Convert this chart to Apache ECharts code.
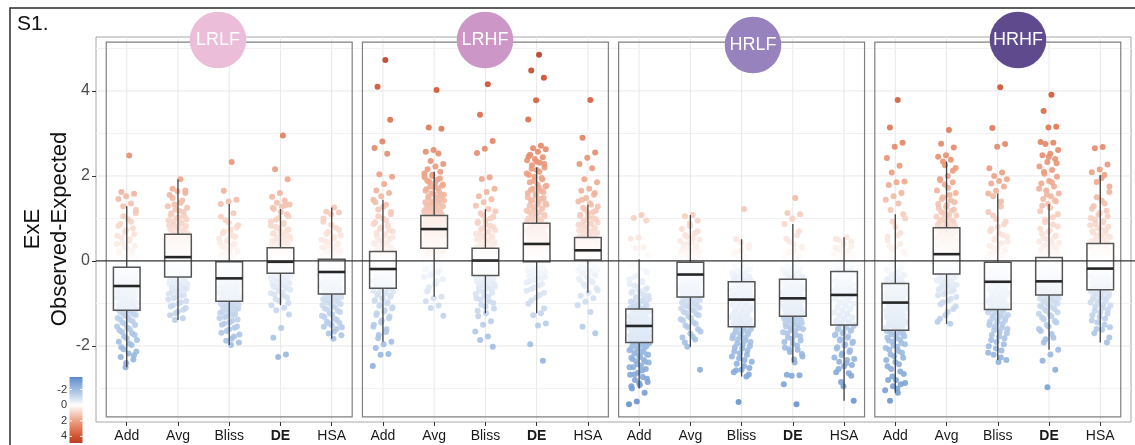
<!DOCTYPE html>
<html>
<head>
<meta charset="utf-8">
<script src="https://cdn.jsdelivr.net/npm/echarts@6.0.0/dist/echarts.min.js"></script>
<style>
  html, body { margin: 0; padding: 0; background: #ffffff; }
  #chart { width: 1135px; height: 445px; }
</style>
</head>
<body>
<div id="chart"></div>
<script>
// ---- data -------------------------------------------------------------
const categories = ['Add', 'Avg', 'Bliss', 'DE', 'HSA'];
const panels = ['LRLF', 'LRHF', 'HRLF', 'HRHF'];
const yTickValues = [-2, 0, 2, 4];
const legendTickValues = [-2, 0, 2, 4];

// box statistics per panel, one row per category:
// [lower whisker, Q1, median, Q3, upper whisker]
const boxLRLF = [
  [-2.50, -1.16, -0.59, -0.15, 1.29],
  [-1.39, -0.38, 0.09, 0.63, 1.92],
  [-1.98, -0.95, -0.41, -0.02, 1.34],
  [-1.04, -0.29, -0.02, 0.31, 1.22],
  [-1.83, -0.78, -0.26, 0.04, 1.26]
];
const boxLRHF = [
  [-1.90, -0.64, -0.19, 0.22, 1.44],
  [-0.84, 0.30, 0.75, 1.07, 2.10],
  [-1.23, -0.34, 0.01, 0.30, 1.22],
  [-1.23, -0.02, 0.40, 0.89, 2.20],
  [-0.75, 0.02, 0.25, 0.55, 1.32]
];
const boxHRLF = [
  [-3.00, -1.92, -1.53, -1.13, 0.04],
  [-2.02, -0.85, -0.32, -0.03, 1.08],
  [-2.72, -1.55, -0.91, -0.49, 0.51],
  [-2.39, -1.30, -0.88, -0.43, 0.87],
  [-3.29, -1.51, -0.80, -0.25, 0.56]
];
const boxHRHF = [
  [-3.10, -1.63, -0.98, -0.53, 1.10],
  [-1.48, -0.31, 0.16, 0.78, 2.34],
  [-2.33, -1.14, -0.49, -0.03, 1.59],
  [-2.09, -0.80, -0.48, 0.08, 1.34],
  [-1.92, -0.68, -0.18, 0.41, 2.02]
];

// individual ExE values (observed - expected)
const ptsLRLF_Add = [2.48,1.62,1.58,1.52,1.46,1.35,1.29,1.12,0.98,0.87,0.77,0.68,0.59,0.51,0.43,0.36,0.29,0.22,0.15,0.09,0.03,-0.03,-0.08,-0.12,
  -0.17,-0.19,-0.22,-0.24,-0.27,-0.29,-0.32,-0.34,-0.37,-0.40,-0.42,-0.45,-0.47,-0.50,-0.52,-0.54,-0.56,-0.58,
  -0.61,-0.64,-0.67,-0.70,-0.73,-0.76,-0.79,-0.82,-0.85,-0.88,-0.92,-0.95,-0.98,-1.01,-1.05,-1.08,-1.11,-1.14,
  -1.19,-1.23,-1.27,-1.32,-1.37,-1.42,-1.48,-1.54,-1.60,-1.67,-1.74,-1.82,-1.90,-1.98,-2.08,-2.13,-2.18,-2.26,-2.32,-2.50,
  -0.10,-0.05,0.00,0.06,0.12,0.19,0.26,0.33,0.40,0.47,0.55,0.63,0.72,0.82,0.92,1.05,1.20,
  -0.18,-0.21,-0.23,-0.26,-0.28,-0.31,-0.33,-0.36,-0.38,-0.41,-0.44,-0.46,-0.49,-0.51,-0.53,-0.55,-0.57,
  -0.62,-0.65,-0.68,-0.71,-0.74,-0.77,-0.80,-0.83,-0.87,-0.90,-0.93,-0.96,-1.00,-1.03,-1.06,-1.10,-1.13,
  -1.17,-1.21,-1.25,-1.29,-1.34,-1.39,-1.45,-1.51,-1.57,-1.63,-1.70,-1.78,-1.86,-1.94,-2.03,-2.22,-2.40];
const ptsLRLF_Avg = [1.92,1.70,1.66,1.64,1.55,1.42,1.33,1.25,1.18,1.12,1.06,1.01,0.96,0.91,0.86,0.82,0.78,0.74,0.70,0.66,
  0.60,0.57,0.54,0.51,0.48,0.45,0.42,0.39,0.36,0.33,0.30,0.27,0.24,0.21,0.18,0.15,0.13,0.11,
  0.07,0.04,0.01,-0.02,-0.05,-0.08,-0.11,-0.14,-0.17,-0.19,-0.22,-0.25,-0.27,-0.29,-0.31,-0.33,-0.35,-0.37,
  -0.41,-0.45,-0.49,-0.53,-0.57,-0.61,-0.65,-0.70,-0.75,-0.80,-0.85,-0.91,-0.97,-1.04,-1.11,-1.19,-1.28,-1.35,-1.39,
  0.64,0.68,0.72,0.76,0.80,0.84,0.88,0.93,0.98,1.03,1.09,1.15,1.21,1.29,1.37,1.48,1.60,
  0.61,0.58,0.55,0.52,0.49,0.46,0.43,0.40,0.37,0.34,0.31,0.28,0.25,0.22,0.19,0.16,0.12,
  0.08,0.05,0.02,-0.01,-0.04,-0.07,-0.10,-0.13,-0.15,-0.18,-0.21,-0.23,-0.26,-0.28,-0.30,-0.32,-0.36,
  -0.39,-0.43,-0.47,-0.51,-0.55,-0.59,-0.63,-0.67,-0.72,-0.77,-0.82,-0.88,-0.94,-1.00,-1.07,-1.15,-1.23];
const ptsLRLF_Bliss = [2.33,1.65,1.44,1.40,1.34,1.12,0.96,0.84,0.74,0.65,0.57,0.50,0.43,0.37,0.31,0.26,0.21,0.16,0.12,0.08,0.04,0.01,
  -0.04,-0.06,-0.08,-0.10,-0.13,-0.15,-0.17,-0.19,-0.22,-0.24,-0.26,-0.28,-0.30,-0.32,-0.34,-0.36,-0.38,-0.40,
  -0.44,-0.47,-0.50,-0.53,-0.56,-0.59,-0.62,-0.65,-0.68,-0.71,-0.74,-0.77,-0.80,-0.83,-0.86,-0.89,-0.92,-0.94,
  -0.98,-1.01,-1.04,-1.08,-1.12,-1.16,-1.20,-1.25,-1.30,-1.35,-1.41,-1.47,-1.54,-1.61,-1.69,-1.78,-1.88,-1.92,-1.98,
  0.00,0.03,0.06,0.10,0.14,0.18,0.23,0.28,0.34,0.40,0.46,0.53,0.61,0.69,0.79,0.90,1.04,
  -0.03,-0.05,-0.07,-0.09,-0.11,-0.14,-0.16,-0.18,-0.20,-0.23,-0.25,-0.27,-0.29,-0.31,-0.33,-0.35,-0.37,
  -0.42,-0.45,-0.48,-0.51,-0.54,-0.57,-0.60,-0.63,-0.66,-0.69,-0.72,-0.75,-0.78,-0.81,-0.84,-0.87,-0.90,
  -0.96,-0.99,-1.03,-1.06,-1.10,-1.14,-1.18,-1.22,-1.27,-1.32,-1.38,-1.44,-1.50,-1.57,-1.65,-1.73,-1.83];
const ptsLRLF_DE = [2.95,2.16,1.92,1.60,1.51,1.42,1.37,1.33,1.28,1.22,1.10,1.01,0.93,0.86,0.80,0.74,0.69,0.64,0.60,0.56,0.52,0.48,0.45,0.42,0.39,0.36,0.33,
  0.29,0.27,0.25,0.23,0.21,0.19,0.17,0.15,0.13,0.11,0.09,0.08,0.06,0.04,0.03,0.02,0.01,0.00,
  -0.04,-0.05,-0.07,-0.08,-0.10,-0.11,-0.13,-0.14,-0.16,-0.17,-0.19,-0.20,-0.22,-0.23,-0.25,-0.26,-0.27,-0.28,
  -0.31,-0.33,-0.35,-0.37,-0.40,-0.42,-0.45,-0.48,-0.51,-0.55,-0.59,-0.63,-0.68,-0.73,-0.79,-0.86,-0.94,-1.04,-1.10,-1.16,-1.26,-1.58,-1.81,-2.20,-2.26,
  0.32,0.35,0.38,0.41,0.44,0.47,0.50,0.54,0.58,0.62,0.66,0.71,0.77,0.83,0.90,0.97,1.05,1.15,1.25,1.31,
  0.30,0.28,0.26,0.24,0.22,0.20,0.18,0.16,0.14,0.12,0.10,0.07,0.05,0.04,0.02,0.01,-0.01,
  -0.03,-0.06,-0.07,-0.09,-0.10,-0.12,-0.13,-0.15,-0.16,-0.18,-0.19,-0.21,-0.22,-0.24,-0.25,-0.27,-0.28,
  -0.30,-0.32,-0.34,-0.36,-0.38,-0.41,-0.44,-0.46,-0.49,-0.53,-0.57,-0.61,-0.65,-0.70,-0.76,-0.82,-0.90,-0.99];
const ptsLRLF_HSA = [1.26,1.16,1.14,1.10,0.92,0.78,0.68,0.60,0.53,0.47,0.41,0.36,0.31,0.27,0.23,0.19,0.15,0.12,0.09,0.06,
  0.02,0.00,-0.02,-0.03,-0.05,-0.07,-0.08,-0.10,-0.12,-0.13,-0.15,-0.17,-0.18,-0.20,-0.21,-0.23,-0.24,-0.25,
  -0.28,-0.31,-0.34,-0.37,-0.40,-0.43,-0.46,-0.49,-0.52,-0.55,-0.58,-0.61,-0.64,-0.67,-0.70,-0.72,-0.74,-0.76,
  -0.80,-0.83,-0.86,-0.90,-0.94,-0.98,-1.02,-1.07,-1.12,-1.17,-1.23,-1.29,-1.36,-1.43,-1.46,-1.51,-1.55,-1.60,-1.71,-1.75,-1.83,
  0.05,0.08,0.11,0.14,0.17,0.21,0.25,0.29,0.33,0.38,0.44,0.50,0.56,0.64,0.73,0.85,1.00,
  0.03,0.01,-0.01,-0.03,-0.04,-0.06,-0.08,-0.09,-0.11,-0.13,-0.14,-0.16,-0.18,-0.19,-0.21,-0.22,-0.24,
  -0.27,-0.30,-0.33,-0.36,-0.39,-0.42,-0.45,-0.48,-0.51,-0.54,-0.57,-0.60,-0.63,-0.66,-0.69,-0.71,-0.75,
  -0.79,-0.82,-0.85,-0.88,-0.92,-0.96,-1.00,-1.04,-1.09,-1.14,-1.20,-1.26,-1.32,-1.39,-1.47,-1.56,-1.66];

const ptsLRHF_Add = [4.73,4.10,3.32,2.81,2.66,2.52,2.04,1.98,1.81,1.66,1.60,1.52,1.44,1.32,1.21,1.10,1.00,0.91,0.83,0.76,0.69,0.63,0.57,0.52,0.47,0.42,0.37,0.33,0.29,0.25,
  0.20,0.17,0.15,0.12,0.10,0.07,0.05,0.02,0.00,-0.03,-0.05,-0.07,-0.09,-0.11,-0.13,-0.15,-0.16,-0.18,
  -0.21,-0.24,-0.27,-0.29,-0.32,-0.34,-0.37,-0.39,-0.42,-0.44,-0.47,-0.49,-0.52,-0.54,-0.57,-0.59,-0.61,-0.63,
  -0.67,-0.70,-0.74,-0.78,-0.82,-0.87,-0.92,-0.97,-1.03,-1.09,-1.16,-1.23,-1.31,-1.40,-1.50,-1.61,-1.74,-1.90,-1.96,-2.05,-2.19,-2.21,-2.47,
  0.23,0.27,0.31,0.35,0.40,0.44,0.49,0.55,0.60,0.66,0.72,0.79,0.87,0.95,1.05,1.15,1.27,1.38,
  0.21,0.18,0.16,0.13,0.11,0.08,0.06,0.03,0.01,-0.02,-0.04,-0.06,-0.08,-0.10,-0.12,-0.14,-0.17,
  -0.20,-0.22,-0.25,-0.28,-0.30,-0.33,-0.35,-0.38,-0.40,-0.43,-0.45,-0.48,-0.50,-0.53,-0.55,-0.58,-0.60,
  -0.65,-0.68,-0.72,-0.76,-0.80,-0.84,-0.89,-0.94,-1.00,-1.06,-1.12,-1.19,-1.27,-1.35,-1.45,-1.55,-1.67,-1.82];
const ptsLRHF_Avg = [4.02,3.14,3.11,2.61,2.57,2.53,2.35,2.28,2.22,2.16,
  2.10,2.03,1.97,1.91,1.86,1.77,1.73,1.69,1.62,1.59,1.56,1.50,1.48,1.45,1.40,1.38,1.35,1.31,1.29,1.27,1.23,1.21,1.19,1.16,1.15,1.13,1.10,1.08,
  1.05,1.03,1.01,0.99,0.97,0.95,0.93,0.91,0.89,0.87,0.85,0.84,0.82,0.81,0.80,0.78,0.77,0.76,
  0.73,0.70,0.68,0.65,0.63,0.60,0.58,0.55,0.53,0.50,0.48,0.45,0.43,0.40,0.38,0.35,0.33,0.31,
  0.28,0.25,0.22,0.19,0.15,0.11,0.07,0.03,-0.01,-0.06,-0.11,-0.17,-0.23,-0.30,-0.38,-0.48,-0.62,-0.84,-0.88,-0.95,-1.05,-1.11,-1.29,
  1.09,1.12,1.14,1.17,1.20,1.22,1.25,1.28,1.30,1.33,1.37,1.39,1.42,1.47,1.52,1.54,1.58,1.65,1.71,1.75,1.80,1.83,1.89,1.94,2.00,2.06,
  1.06,1.04,1.02,1.00,0.98,0.96,0.94,0.92,0.90,0.88,0.86,0.83,0.81,0.79,0.77,0.76,0.74,
  0.72,0.69,0.67,0.64,0.62,0.59,0.57,0.54,0.52,0.49,0.47,0.44,0.42,0.39,0.37,0.34,0.32,
  0.29,0.27,0.24,0.21,0.17,0.13,0.09,0.05,0.01,-0.03,-0.08,-0.14,-0.20,-0.27,-0.34,-0.43,-0.55,-0.72];
const ptsLRHF_Bliss = [4.16,3.44,2.82,2.64,2.54,1.97,1.93,1.70,1.62,1.52,1.45,1.38,1.30,1.22,1.12,1.04,0.96,0.89,0.83,0.77,0.72,0.67,0.62,0.58,0.54,0.50,0.46,0.42,0.39,0.36,0.33,
  0.28,0.26,0.24,0.23,0.21,0.19,0.17,0.16,0.14,0.12,0.11,0.09,0.08,0.07,0.05,0.04,0.03,0.02,
  -0.01,-0.03,-0.05,-0.07,-0.09,-0.11,-0.13,-0.15,-0.17,-0.19,-0.21,-0.23,-0.25,-0.27,-0.29,-0.30,-0.31,-0.33,
  -0.36,-0.38,-0.41,-0.44,-0.47,-0.50,-0.53,-0.57,-0.61,-0.65,-0.70,-0.75,-0.81,-0.88,-0.95,-1.03,-1.12,-1.23,-1.30,-1.42,-1.50,-1.66,-1.78,-1.86,-2.02,
  0.31,0.34,0.37,0.41,0.44,0.48,0.52,0.56,0.60,0.64,0.69,0.74,0.80,0.86,0.92,1.00,1.08,1.17,
  0.29,0.27,0.25,0.22,0.20,0.18,0.17,0.15,0.13,0.12,0.10,0.09,0.07,0.06,0.04,0.03,0.02,
  0.00,-0.02,-0.04,-0.06,-0.08,-0.10,-0.12,-0.14,-0.16,-0.18,-0.20,-0.22,-0.24,-0.26,-0.28,-0.30,-0.32,
  -0.35,-0.37,-0.40,-0.42,-0.45,-0.48,-0.52,-0.55,-0.59,-0.63,-0.67,-0.72,-0.78,-0.84,-0.91,-0.99,-1.07,-1.17];
const ptsLRHF_DE = [4.85,4.48,4.31,3.78,3.33,2.71,2.65,2.63,2.57,2.50,2.44,2.40,2.37,2.31,2.25,2.20,2.14,2.02,1.95,1.88,1.77,1.72,1.67,1.62,1.58,1.50,1.46,1.43,1.36,1.33,1.30,1.24,1.21,1.19,1.14,1.11,1.09,1.04,1.00,0.96,0.92,
  0.86,0.83,0.80,0.78,0.75,0.72,0.69,0.66,0.63,0.61,0.58,0.55,0.52,0.50,0.47,0.45,0.43,0.41,
  0.38,0.35,0.33,0.30,0.28,0.25,0.23,0.20,0.18,0.15,0.13,0.11,0.08,0.06,0.04,0.02,0.00,-0.01,
  -0.05,-0.08,-0.11,-0.14,-0.18,-0.22,-0.26,-0.30,-0.35,-0.40,-0.45,-0.51,-0.58,-0.66,-0.75,-0.86,-1.01,-1.23,-1.28,-1.47,-1.52,-1.96,-2.35,
  0.90,0.94,0.98,1.02,1.06,1.12,1.16,1.22,1.27,1.32,1.39,1.41,1.48,1.54,1.60,1.65,1.70,1.75,1.80,1.85,1.92,1.98,2.06,2.10,2.17,2.28,2.34,2.46,
  0.88,0.85,0.82,0.79,0.76,0.73,0.70,0.68,0.65,0.62,0.59,0.56,0.54,0.51,0.48,0.46,0.44,0.42,
  0.39,0.37,0.34,0.32,0.29,0.27,0.24,0.22,0.19,0.17,0.14,0.12,0.09,0.07,0.05,0.03,0.01,
  -0.03,-0.06,-0.09,-0.12,-0.16,-0.20,-0.24,-0.28,-0.32,-0.37,-0.42,-0.48,-0.54,-0.62,-0.70,-0.80,-0.93,-1.12];
const ptsLRHF_HSA = [3.79,2.90,2.55,2.43,2.28,2.18,1.92,1.85,1.70,1.65,1.56,1.48,1.40,1.32,1.25,1.18,1.12,1.06,1.01,0.96,0.91,0.87,0.83,0.79,0.75,0.72,0.69,0.66,0.63,0.60,0.57,
  0.53,0.51,0.49,0.47,0.45,0.43,0.41,0.40,0.38,0.36,0.35,0.33,0.31,0.30,0.29,0.28,0.27,0.26,
  0.24,0.23,0.21,0.20,0.18,0.17,0.15,0.14,0.12,0.11,0.10,0.09,0.08,0.07,0.06,0.05,0.04,0.03,
  0.00,-0.02,-0.04,-0.06,-0.08,-0.11,-0.14,-0.17,-0.20,-0.24,-0.28,-0.32,-0.37,-0.42,-0.48,-0.55,-0.64,-0.75,-0.82,-0.88,-0.96,-1.04,-1.20,-1.55,-1.70,
  0.56,0.58,0.61,0.64,0.67,0.70,0.73,0.77,0.81,0.85,0.89,0.93,0.98,1.03,1.09,1.15,1.21,1.28,1.36,1.44,1.60,
  0.54,0.52,0.50,0.48,0.46,0.44,0.42,0.39,0.37,0.36,0.34,0.32,0.30,0.29,0.28,0.27,0.26,
  0.25,0.22,0.21,0.19,0.18,0.16,0.15,0.13,0.12,0.11,0.10,0.09,0.08,0.07,0.06,0.04,0.03,
  0.01,-0.01,-0.03,-0.05,-0.07,-0.09,-0.12,-0.15,-0.19,-0.22,-0.26,-0.30,-0.34,-0.39,-0.45,-0.51,-0.59,-0.69];

const ptsHRLF_Add = [1.08,1.01,0.95,0.55,0.52,0.32,0.30,0.14,0.04,-0.10,-0.23,-0.34,-0.43,-0.51,-0.58,-0.64,-0.70,-0.75,-0.80,-0.85,-0.90,-0.94,-0.98,-1.02,-1.06,-1.10,
  -1.15,-1.17,-1.20,-1.22,-1.24,-1.27,-1.29,-1.31,-1.34,-1.36,-1.38,-1.40,-1.42,-1.44,-1.46,-1.48,-1.50,-1.52,
  -1.55,-1.57,-1.59,-1.62,-1.64,-1.66,-1.69,-1.71,-1.73,-1.75,-1.77,-1.79,-1.81,-1.83,-1.85,-1.87,-1.89,-1.91,
  -1.94,-1.97,-2.00,-2.03,-2.06,-2.10,-2.14,-2.18,-2.20,-2.23,-2.28,-2.33,-2.36,-2.39,-2.46,-2.50,-2.54,-2.63,-2.68,-2.73,-2.80,-2.85,-2.92,-3.00,-3.10,-3.31,-3.37,
  -1.12,-1.08,-1.04,-1.00,-0.96,-0.92,-0.87,-0.82,-0.77,-0.72,-0.67,-0.61,-0.54,-0.47,-0.38,-0.28,-0.16,-0.04,
  -1.14,-1.16,-1.18,-1.21,-1.23,-1.25,-1.28,-1.30,-1.32,-1.35,-1.37,-1.39,-1.41,-1.43,-1.45,-1.47,-1.49,-1.51,
  -1.54,-1.56,-1.58,-1.60,-1.63,-1.65,-1.67,-1.70,-1.72,-1.74,-1.76,-1.78,-1.80,-1.82,-1.84,-1.86,-1.88,-1.90,
  -1.93,-1.95,-1.98,-2.01,-2.05,-2.08,-2.12,-2.16,-2.21,-2.26,-2.31,-2.37,-2.43,-2.50,-2.58,-2.67,-2.77,-2.88,-2.95];
const ptsHRLF_Avg = [1.08,1.05,0.95,0.88,0.75,0.65,0.57,0.50,0.44,0.38,0.33,0.28,0.23,0.19,0.15,0.11,0.08,0.05,0.02,-0.01,
  -0.05,-0.07,-0.09,-0.11,-0.12,-0.14,-0.16,-0.17,-0.19,-0.20,-0.22,-0.23,-0.25,-0.26,-0.27,-0.28,-0.30,-0.31,
  -0.35,-0.38,-0.41,-0.44,-0.47,-0.50,-0.53,-0.56,-0.59,-0.62,-0.65,-0.67,-0.70,-0.73,-0.76,-0.78,-0.81,-0.83,
  -0.88,-0.91,-0.94,-0.98,-1.02,-1.06,-1.10,-1.15,-1.20,-1.25,-1.31,-1.37,-1.44,-1.52,-1.61,-1.71,-1.80,-1.85,-2.02,-2.56,
  -0.02,0.00,0.03,0.06,0.10,0.13,0.17,0.21,0.25,0.30,0.35,0.41,0.47,0.54,0.61,0.70,0.82,
  -0.04,-0.06,-0.08,-0.10,-0.13,-0.15,-0.16,-0.18,-0.19,-0.21,-0.22,-0.24,-0.25,-0.27,-0.28,-0.29,-0.31,
  -0.34,-0.36,-0.39,-0.42,-0.45,-0.48,-0.51,-0.54,-0.57,-0.60,-0.63,-0.66,-0.69,-0.71,-0.74,-0.77,-0.80,-0.84,
  -0.86,-0.89,-0.92,-0.96,-1.00,-1.04,-1.08,-1.12,-1.17,-1.22,-1.28,-1.34,-1.40,-1.48,-1.56,-1.66,-1.78,-1.92];
const ptsHRLF_Bliss = [1.22,0.51,0.37,0.25,0.15,0.07,0.01,-0.05,-0.10,-0.15,-0.19,-0.23,-0.27,-0.31,-0.34,-0.37,-0.40,-0.43,-0.46,
  -0.51,-0.54,-0.56,-0.58,-0.61,-0.63,-0.65,-0.68,-0.70,-0.72,-0.74,-0.77,-0.79,-0.81,-0.83,-0.85,-0.87,-0.89,
  -0.94,-0.98,-1.02,-1.06,-1.09,-1.13,-1.17,-1.21,-1.25,-1.28,-1.32,-1.35,-1.38,-1.41,-1.44,-1.47,-1.50,-1.53,
  -1.58,-1.62,-1.66,-1.70,-1.75,-1.80,-1.85,-1.91,-1.97,-2.03,-2.10,-2.17,-2.25,-2.33,-2.42,-2.52,-2.56,-2.62,-2.72,-3.32,
  -0.48,-0.44,-0.41,-0.38,-0.35,-0.32,-0.29,-0.25,-0.21,-0.17,-0.12,-0.07,-0.02,0.04,0.11,0.20,0.31,0.44,
  -0.50,-0.52,-0.55,-0.57,-0.59,-0.62,-0.64,-0.66,-0.69,-0.71,-0.73,-0.75,-0.78,-0.80,-0.82,-0.84,-0.86,-0.88,
  -0.92,-0.96,-1.00,-1.04,-1.08,-1.11,-1.15,-1.19,-1.23,-1.27,-1.30,-1.33,-1.37,-1.40,-1.43,-1.46,-1.49,-1.52,
  -1.56,-1.60,-1.64,-1.68,-1.72,-1.77,-1.82,-1.88,-1.94,-2.00,-2.06,-2.13,-2.21,-2.29,-2.37,-2.47,-2.57,-2.67];
const ptsHRLF_DE = [1.48,1.13,1.10,1.00,0.87,0.60,0.45,0.34,0.25,0.17,0.10,0.04,-0.02,-0.07,-0.12,-0.17,-0.21,-0.25,-0.29,-0.33,-0.37,-0.40,
  -0.46,-0.48,-0.51,-0.53,-0.56,-0.58,-0.61,-0.63,-0.66,-0.68,-0.71,-0.73,-0.75,-0.78,-0.80,-0.82,-0.84,-0.86,
  -0.90,-0.93,-0.95,-0.98,-1.00,-1.03,-1.05,-1.08,-1.10,-1.13,-1.15,-1.18,-1.20,-1.22,-1.24,-1.26,-1.27,-1.29,
  -1.33,-1.36,-1.39,-1.42,-1.46,-1.50,-1.54,-1.58,-1.63,-1.68,-1.74,-1.80,-1.87,-1.95,-2.04,-2.09,-2.14,-2.25,-2.39,-2.68,-2.69,-2.70,-2.90,-3.37,
  -0.41,-0.38,-0.35,-0.31,-0.27,-0.23,-0.19,-0.14,-0.09,-0.04,0.01,0.07,0.13,0.21,0.29,0.39,0.52,0.70,
  -0.44,-0.47,-0.49,-0.52,-0.54,-0.57,-0.59,-0.62,-0.64,-0.67,-0.69,-0.72,-0.74,-0.76,-0.79,-0.81,-0.83,-0.85,
  -0.89,-0.91,-0.94,-0.96,-0.99,-1.01,-1.04,-1.06,-1.09,-1.11,-1.14,-1.16,-1.19,-1.21,-1.23,-1.25,-1.28,
  -1.31,-1.34,-1.37,-1.40,-1.44,-1.48,-1.52,-1.56,-1.60,-1.65,-1.71,-1.77,-1.83,-1.91,-1.99,-2.08,-2.19,-2.32];
const ptsHRLF_HSA = [0.56,0.50,0.46,0.38,0.31,0.25,0.20,0.15,0.11,0.07,0.03,-0.01,-0.04,-0.07,-0.10,-0.13,-0.16,-0.19,-0.22,
  -0.28,-0.31,-0.34,-0.37,-0.40,-0.43,-0.46,-0.49,-0.52,-0.55,-0.58,-0.61,-0.64,-0.67,-0.70,-0.73,-0.75,-0.78,
  -0.84,-0.88,-0.92,-0.96,-1.00,-1.04,-1.08,-1.12,-1.16,-1.20,-1.24,-1.28,-1.32,-1.36,-1.40,-1.43,-1.46,-1.49,
  -1.55,-1.59,-1.63,-1.68,-1.73,-1.78,-1.84,-1.90,-1.96,-2.03,-2.10,-2.18,-2.27,-2.33,-2.37,-2.45,-2.48,-2.62,-2.64,-2.85,-3.29,
  -0.24,-0.21,-0.18,-0.15,-0.12,-0.09,-0.06,-0.03,0.01,0.05,0.09,0.13,0.17,0.22,0.28,0.34,0.42,0.52,
  -0.26,-0.29,-0.32,-0.35,-0.38,-0.41,-0.44,-0.47,-0.50,-0.53,-0.56,-0.59,-0.62,-0.65,-0.68,-0.71,-0.74,-0.77,
  -0.82,-0.86,-0.90,-0.94,-0.98,-1.02,-1.06,-1.10,-1.14,-1.18,-1.22,-1.26,-1.30,-1.34,-1.38,-1.42,-1.45,-1.48,
  -1.53,-1.57,-1.61,-1.65,-1.70,-1.75,-1.81,-1.87,-1.93,-1.99,-2.06,-2.14,-2.22,-2.31,-2.41,-2.54,-2.70,-2.95];

const ptsHRHF_Add = [3.79,3.14,2.78,2.69,2.42,2.24,2.08,1.87,1.85,1.79,1.60,1.52,1.44,1.35,1.20,1.10,0.80,0.57,0.40,0.27,0.16,0.07,-0.01,-0.08,-0.14,-0.20,-0.25,-0.30,-0.34,-0.38,-0.42,-0.46,-0.50,
  -0.56,-0.58,-0.61,-0.63,-0.66,-0.68,-0.71,-0.73,-0.76,-0.78,-0.81,-0.83,-0.86,-0.88,-0.90,-0.92,-0.94,-0.96,
  -1.01,-1.05,-1.08,-1.12,-1.15,-1.19,-1.22,-1.26,-1.29,-1.33,-1.36,-1.40,-1.43,-1.47,-1.50,-1.54,-1.57,-1.61,
  -1.67,-1.71,-1.75,-1.80,-1.85,-1.90,-1.96,-2.02,-2.09,-2.16,-2.24,-2.33,-2.43,-2.54,-2.66,-2.80,-2.80,-2.90,-2.95,-3.04,-3.10,-3.29,
  -0.52,-0.48,-0.44,-0.40,-0.36,-0.32,-0.27,-0.22,-0.17,-0.11,-0.05,0.03,0.11,0.21,0.33,0.48,0.66,0.92,1.00,0.60,0.35,
  -0.55,-0.57,-0.60,-0.62,-0.65,-0.67,-0.70,-0.72,-0.75,-0.77,-0.80,-0.82,-0.85,-0.87,-0.89,-0.91,-0.93,-0.95,
  -0.99,-1.03,-1.07,-1.10,-1.14,-1.17,-1.21,-1.24,-1.28,-1.31,-1.35,-1.38,-1.42,-1.45,-1.49,-1.52,-1.56,-1.59,
  -1.65,-1.69,-1.73,-1.77,-1.82,-1.87,-1.93,-1.99,-2.05,-2.12,-2.20,-2.28,-2.38,-2.48,-2.60,-2.72,-2.87,-3.00];
const ptsHRHF_Avg = [3.08,2.76,2.67,2.49,2.45,2.38,2.34,2.19,2.00,1.93,1.85,1.80,1.66,1.55,1.46,1.38,1.31,1.24,1.18,1.12,1.07,1.02,0.97,0.93,0.89,0.85,0.81,
  0.74,0.71,0.67,0.64,0.60,0.57,0.53,0.50,0.47,0.44,0.41,0.38,0.35,0.32,0.29,0.25,0.22,0.19,
  0.13,0.10,0.07,0.04,0.01,-0.02,-0.05,-0.08,-0.11,-0.14,-0.16,-0.19,-0.21,-0.23,-0.25,-0.27,-0.29,-0.30,
  -0.34,-0.37,-0.40,-0.43,-0.46,-0.50,-0.54,-0.58,-0.62,-0.67,-0.72,-0.78,-0.85,-0.93,-1.02,-1.13,-1.28,-1.43,-1.48,
  0.79,0.83,0.87,0.91,0.95,1.00,1.04,1.09,1.15,1.21,1.27,1.34,1.42,1.50,1.60,1.72,1.90,2.12,2.25,
  0.76,0.72,0.69,0.65,0.62,0.58,0.55,0.52,0.48,0.45,0.42,0.39,0.36,0.33,0.30,0.27,0.24,0.20,
  0.14,0.11,0.08,0.05,0.02,-0.01,-0.04,-0.07,-0.10,-0.12,-0.15,-0.18,-0.20,-0.22,-0.24,-0.26,-0.28,
  -0.32,-0.35,-0.38,-0.41,-0.44,-0.48,-0.52,-0.56,-0.60,-0.64,-0.69,-0.75,-0.81,-0.89,-0.97,-1.07,-1.20,-1.36];
const ptsHRHF_Bliss = [4.09,3.13,2.75,2.69,2.18,2.08,2.00,1.92,1.88,1.82,1.75,1.65,1.59,1.28,1.07,0.92,0.80,0.70,0.61,0.53,0.46,0.39,0.33,0.27,0.22,0.17,0.12,0.08,0.04,0.00,
  -0.06,-0.08,-0.11,-0.13,-0.16,-0.18,-0.21,-0.23,-0.26,-0.28,-0.31,-0.33,-0.36,-0.38,-0.41,-0.43,-0.45,-0.47,
  -0.52,-0.56,-0.60,-0.63,-0.67,-0.70,-0.74,-0.77,-0.81,-0.84,-0.88,-0.91,-0.95,-0.98,-1.02,-1.05,-1.09,-1.12,
  -1.17,-1.21,-1.25,-1.29,-1.33,-1.38,-1.43,-1.48,-1.54,-1.60,-1.67,-1.74,-1.82,-1.91,-2.01,-2.11,-2.21,-2.33,-2.38,
  -0.01,0.02,0.06,0.10,0.14,0.19,0.24,0.30,0.36,0.42,0.49,0.57,0.65,0.75,0.86,0.99,1.15,1.40,1.52,
  -0.05,-0.07,-0.10,-0.12,-0.15,-0.17,-0.20,-0.22,-0.25,-0.27,-0.30,-0.32,-0.35,-0.37,-0.40,-0.42,-0.44,-0.46,
  -0.50,-0.54,-0.58,-0.62,-0.65,-0.69,-0.72,-0.76,-0.79,-0.83,-0.86,-0.90,-0.93,-0.97,-1.00,-1.04,-1.07,-1.11,
  -1.15,-1.19,-1.23,-1.27,-1.31,-1.35,-1.40,-1.45,-1.51,-1.57,-1.63,-1.70,-1.78,-1.86,-1.96,-2.06,-2.16,-2.27];
const ptsHRHF_DE = [3.91,3.53,3.16,3.14,2.80,2.78,2.75,2.61,2.52,2.49,2.40,2.33,2.22,2.14,2.05,1.98,1.88,1.82,1.75,1.66,1.59,1.52,1.46,1.40,1.34,1.17,1.03,0.91,0.81,0.72,0.64,0.57,0.51,0.45,0.40,0.35,0.30,0.26,0.22,0.18,0.14,0.11,
  0.05,0.02,-0.01,-0.04,-0.07,-0.10,-0.13,-0.16,-0.19,-0.22,-0.25,-0.28,-0.31,-0.34,-0.37,-0.40,-0.43,-0.46,
  -0.50,-0.52,-0.54,-0.55,-0.57,-0.59,-0.61,-0.62,-0.64,-0.66,-0.68,-0.69,-0.71,-0.73,-0.74,-0.76,-0.77,-0.79,
  -0.83,-0.86,-0.89,-0.92,-0.96,-1.00,-1.04,-1.08,-1.13,-1.18,-1.24,-1.30,-1.37,-1.45,-1.54,-1.65,-1.81,-1.84,-2.09,-2.20,-2.35,-2.56,-2.97,
  0.10,0.13,0.16,0.20,0.24,0.28,0.33,0.38,0.43,0.48,0.54,0.60,0.68,0.76,0.86,0.97,1.10,1.25,1.30,1.43,1.56,1.70,1.85,2.10,2.30,2.45,
  0.07,0.04,0.01,-0.02,-0.06,-0.09,-0.12,-0.15,-0.18,-0.21,-0.24,-0.27,-0.30,-0.33,-0.36,-0.39,-0.42,-0.45,
  -0.49,-0.51,-0.53,-0.56,-0.58,-0.60,-0.61,-0.63,-0.65,-0.67,-0.68,-0.70,-0.72,-0.73,-0.75,-0.76,-0.78,
  -0.81,-0.84,-0.87,-0.90,-0.94,-0.98,-1.02,-1.06,-1.10,-1.15,-1.21,-1.27,-1.33,-1.41,-1.50,-1.60,-1.72,-1.92];
const ptsHRHF_HSA = [2.68,2.65,2.27,2.15,2.09,2.02,1.86,1.62,1.42,1.29,1.18,1.09,1.01,0.94,0.87,0.81,0.75,0.70,0.65,0.60,0.56,0.52,0.48,0.44,
  0.38,0.34,0.31,0.27,0.24,0.20,0.17,0.14,0.10,0.07,0.04,0.01,-0.02,-0.05,-0.08,-0.11,-0.14,-0.16,
  -0.21,-0.24,-0.27,-0.30,-0.33,-0.35,-0.38,-0.41,-0.44,-0.47,-0.50,-0.53,-0.55,-0.58,-0.60,-0.62,-0.64,-0.66,
  -0.71,-0.74,-0.77,-0.81,-0.85,-0.89,-0.93,-0.98,-1.03,-1.08,-1.14,-1.21,-1.28,-1.36,-1.45,-1.56,-1.62,-1.70,-1.92,
  0.42,0.46,0.50,0.54,0.58,0.62,0.67,0.72,0.78,0.84,0.90,0.97,1.05,1.13,1.23,1.35,1.50,1.75,1.95,
  0.40,0.36,0.33,0.29,0.26,0.22,0.19,0.15,0.12,0.09,0.06,0.03,0.00,-0.03,-0.06,-0.09,-0.12,-0.15,
  -0.19,-0.22,-0.25,-0.28,-0.31,-0.34,-0.36,-0.39,-0.42,-0.45,-0.48,-0.51,-0.54,-0.56,-0.59,-0.61,-0.63,-0.65,
  -0.69,-0.72,-0.75,-0.79,-0.83,-0.87,-0.91,-0.95,-1.00,-1.05,-1.11,-1.17,-1.24,-1.32,-1.40,-1.50,-1.60,-1.80];

const pointSets = [
  [ptsLRLF_Add, ptsLRLF_Avg, ptsLRLF_Bliss, ptsLRLF_DE, ptsLRLF_HSA],
  [ptsLRHF_Add, ptsLRHF_Avg, ptsLRHF_Bliss, ptsLRHF_DE, ptsLRHF_HSA],
  [ptsHRLF_Add, ptsHRLF_Avg, ptsHRLF_Bliss, ptsHRLF_DE, ptsHRLF_HSA],
  [ptsHRHF_Add, ptsHRHF_Avg, ptsHRHF_Bliss, ptsHRHF_DE, ptsHRHF_HSA]
];
const boxSets = [boxLRLF, boxLRHF, boxHRLF, boxHRHF];

// ---- styling ----------------------------------------------------------
const FONT = '"Liberation Sans", Arial, Helvetica, sans-serif';
const badgeColors = ['#EBBDD8', '#CC97C6', '#9882BE', '#5E4A8D'];
const badgeCenters = [[218, 40], [485, 40], [753, 45], [1018, 40]];

// diverging colour scale: blue (below expected) - white - red (above expected)
const SCALE_MIN = -3.6, SCALE_MAX = 4.85;
const colorScale = [
  [-3.6, '#5A89CA'], [-3, '#78A0D5'], [-2, '#A0BDE3'], [-1, '#CCDBEF'], [0, '#FFFFFF'],
  [1, '#F6D0C2'], [2, '#EDA185'], [3, '#E07B58'], [4, '#D0552F'], [4.85, '#BE3A24']
];
function hexRgb(h) { return [1, 3, 5].map(k => parseInt(h.slice(k, k + 2), 16)); }
function valueColor(v) {
  if (v <= colorScale[0][0]) return colorScale[0][1];
  for (let k = 1; k < colorScale.length; k++) {
    if (v <= colorScale[k][0]) {
      const t = (v - colorScale[k - 1][0]) / (colorScale[k][0] - colorScale[k - 1][0]);
      const a = hexRgb(colorScale[k - 1][1]), b = hexRgb(colorScale[k][1]);
      const c = a.map((x, i) => Math.round(x + (b[i] - x) * t));
      return 'rgb(' + c.join(',') + ')';
    }
  }
  return colorScale[colorScale.length - 1][1];
}

// ---- derived series data ---------------------------------------------
const X_MIN = -0.6, X_MAX = 19.6, Y_MIN = -3.79, Y_MAX = 5.27;
const JITTER = 0.2;
const slotValues = [];
const scatterData = [];
const boxData = [];
pointSets.forEach((row, p) => {
  row.forEach((vals, c) => {
    const slot = p * categories.length + c;
    slotValues.push(slot);
    vals.forEach((v, i) => {
      const j = ((i + 1) * 0.6180339887) % 1;       // evenly spread horizontal jitter
      scatterData.push({ value: [slot + (j - 0.5) * 2 * JITTER, v], itemStyle: { color: valueColor(v) } });
    });
    boxData.push([slot].concat(boxSets[p][c]));
  });
});
const panelData = panels.map((_, p) => [p, 0]);
const hGridData = [-3, -2, -1, 1, 2, 3, 4, 5].map(v => [0, v]);
const vGridData = slotValues.map(s => [s, 0]);

// ---- renderers --------------------------------------------------------
function renderVGrid(params, api) {
  const cs = params.coordSys;
  const x = api.coord([api.value(0), 0])[0];
  return { type: 'line', shape: { x1: x, y1: cs.y, x2: x, y2: cs.y + cs.height },
           style: { stroke: '#E8E8E8', lineWidth: 1 } };
}
function renderHGrid(params, api) {
  const cs = params.coordSys;
  const v = api.value(1);
  const y = api.coord([0, v])[1];
  return { type: 'line', shape: { x1: cs.x, y1: y, x2: cs.x + cs.width, y2: y },
           style: { stroke: (v % 2 === 0) ? '#E8E8E8' : '#F1F1F1', lineWidth: 1 } };
}
function renderPanel(params, api) {
  const p = api.value(0);
  const a = api.coord([p * 5 - 0.4, 5.15]);
  const b = api.coord([p * 5 + 4.4, -3.67]);
  return { type: 'rect', shape: { x: a[0], y: a[1], width: b[0] - a[0], height: b[1] - a[1] },
           style: { fill: 'none', stroke: '#808080', lineWidth: 1.2 } };
}
function renderBox(params, api) {
  const x = api.value(0);
  const lo = api.coord([x, api.value(1)]);
  const q1 = api.coord([x, api.value(2)]);
  const md = api.coord([x, api.value(3)]);
  const q3 = api.coord([x, api.value(4)]);
  const hi = api.coord([x, api.value(5)]);
  const w = api.size([0.52, 0])[0];
  const cx = q1[0];
  const whisker = { stroke: '#3F3F3F', lineWidth: 1.3 };
  return { type: 'group', children: [
    { type: 'line', shape: { x1: cx, y1: hi[1], x2: cx, y2: q3[1] }, style: whisker },
    { type: 'line', shape: { x1: cx, y1: q1[1], x2: cx, y2: lo[1] }, style: whisker },
    { type: 'rect', shape: { x: cx - w / 2, y: q3[1], width: w, height: q1[1] - q3[1] },
      style: { fill: 'rgba(255,255,255,0.62)', stroke: '#555555', lineWidth: 1.5 } },
    { type: 'line', shape: { x1: cx - w / 2, y1: md[1], x2: cx + w / 2, y2: md[1] },
      style: { stroke: '#262626', lineWidth: 2.6 } }
  ] };
}
function renderZero(params, api) {
  const cs = params.coordSys;
  const y = api.coord([0, 0])[1];
  return { type: 'line', shape: { x1: cs.x, y1: y, x2: cs.x + cs.width + 6, y2: y },
           style: { stroke: '#333333', lineWidth: 1.2 } };
}

// ---- graphic overlays -------------------------------------------------
const legendTop = 377, legendH = 66, legendX = 69.5, legendW = 13;
const legendY = v => legendTop + (v - SCALE_MIN) / (SCALE_MAX - SCALE_MIN) * legendH;
const graphics = [
  { type: 'rect', z: 200, shape: { x: 10, y: 8, width: 1135, height: 450 },
    style: { fill: 'none', stroke: '#2A2A2A', lineWidth: 1.5 } },
  { type: 'text', z: 200, x: 17, y: 14,
    style: { text: 'S1.', font: '21px ' + FONT, fill: '#111111' } },
  { type: 'text', z: 200, x: 33, y: 229, rotation: Math.PI / 2,
    style: { text: 'ExE', font: '22px ' + FONT, fill: '#111111', textAlign: 'center', textVerticalAlign: 'middle' } },
  { type: 'text', z: 200, x: 60, y: 229, rotation: Math.PI / 2,
    style: { text: 'Observed-Expected', font: '22px ' + FONT, fill: '#111111', textAlign: 'center', textVerticalAlign: 'middle' } },
  { type: 'rect', z: 200, shape: { x: legendX, y: legendTop, width: legendW, height: legendH },
    style: { fill: new echarts.graphic.LinearGradient(0, 0, 0, 1,
      colorScale.map(s => ({ offset: (s[0] - SCALE_MIN) / (SCALE_MAX - SCALE_MIN), color: s[1] }))) } }
];
legendTickValues.forEach(v => {
  const y = legendY(v);
  graphics.push({ type: 'text', z: 200, x: 67, y: y,
    style: { text: String(v), font: '11px ' + FONT, fill: '#333333', textAlign: 'right', textVerticalAlign: 'middle' } });
  graphics.push({ type: 'line', z: 201, shape: { x1: legendX, y1: y, x2: legendX + 2.5, y2: y },
    style: { stroke: '#FFFFFF', lineWidth: 1 } });
  graphics.push({ type: 'line', z: 201, shape: { x1: legendX + legendW - 2.5, y1: y, x2: legendX + legendW, y2: y },
    style: { stroke: '#FFFFFF', lineWidth: 1 } });
});
panels.forEach((name, p) => {
  graphics.push({ type: 'circle', z: 210, shape: { cx: badgeCenters[p][0], cy: badgeCenters[p][1], r: 28.3 },
    style: { fill: badgeColors[p] } });
  graphics.push({ type: 'text', z: 211, x: badgeCenters[p][0], y: badgeCenters[p][1],
    style: { text: name, font: '18px ' + FONT, fill: '#FFFFFF', textAlign: 'center', textVerticalAlign: 'middle' } });
});

// ---- chart ------------------------------------------------------------
const chart = echarts.init(document.getElementById('chart'), null, { renderer: 'canvas' });
chart.setOption({
  animation: false,
  backgroundColor: '#ffffff',
  textStyle: { fontFamily: FONT },
  grid: { left: 96, top: 37, width: 1035, height: 385, show: true,
          borderColor: '#A6A6A6', borderWidth: 1, backgroundColor: 'transparent' },
  xAxis: {
    type: 'value', min: X_MIN, max: X_MAX, position: 'bottom',
    axisLine: { show: false, onZero: false },
    splitLine: { show: false },
    axisTick: { show: true, length: 4, customValues: slotValues, lineStyle: { color: '#333333' } },
    axisLabel: {
      customValues: slotValues, margin: 7, fontSize: 14, color: '#1A1A1A', fontFamily: FONT,
      formatter: v => {
        const name = categories[Math.round(v) % categories.length];
        return name === 'DE' ? '{b|DE}' : name;
      },
      rich: { b: { fontWeight: 'bold', fontSize: 14, color: '#1A1A1A', fontFamily: FONT } }
    }
  },
  yAxis: {
    type: 'value', min: Y_MIN, max: Y_MAX, position: 'left',
    axisLine: { show: false, onZero: false },
    splitLine: { show: false },
    axisTick: { show: true, length: 4, customValues: yTickValues, lineStyle: { color: '#333333' } },
    axisLabel: { customValues: yTickValues, margin: 6, fontSize: 16, color: '#4D4D4D', fontFamily: FONT }
  },
  graphic: graphics,
  series: [
    { type: 'custom', name: 'gridV', silent: true, z: 1, renderItem: renderVGrid, data: vGridData },
    { type: 'custom', name: 'gridH', silent: true, z: 1, renderItem: renderHGrid, data: hGridData },
    { type: 'custom', name: 'panels', silent: true, z: 2, renderItem: renderPanel, data: panelData },
    { type: 'scatter', name: 'ExE', z: 3, symbolSize: 6, itemStyle: { opacity: 0.9 }, data: scatterData },
    { type: 'custom', name: 'boxes', z: 4, renderItem: renderBox, encode: { x: 0, y: [1, 2, 3, 4, 5] }, data: boxData },
    { type: 'custom', name: 'zero', silent: true, z: 5, renderItem: renderZero, data: [[0, 0]] }
  ]
});
</script>
</body>
</html>
